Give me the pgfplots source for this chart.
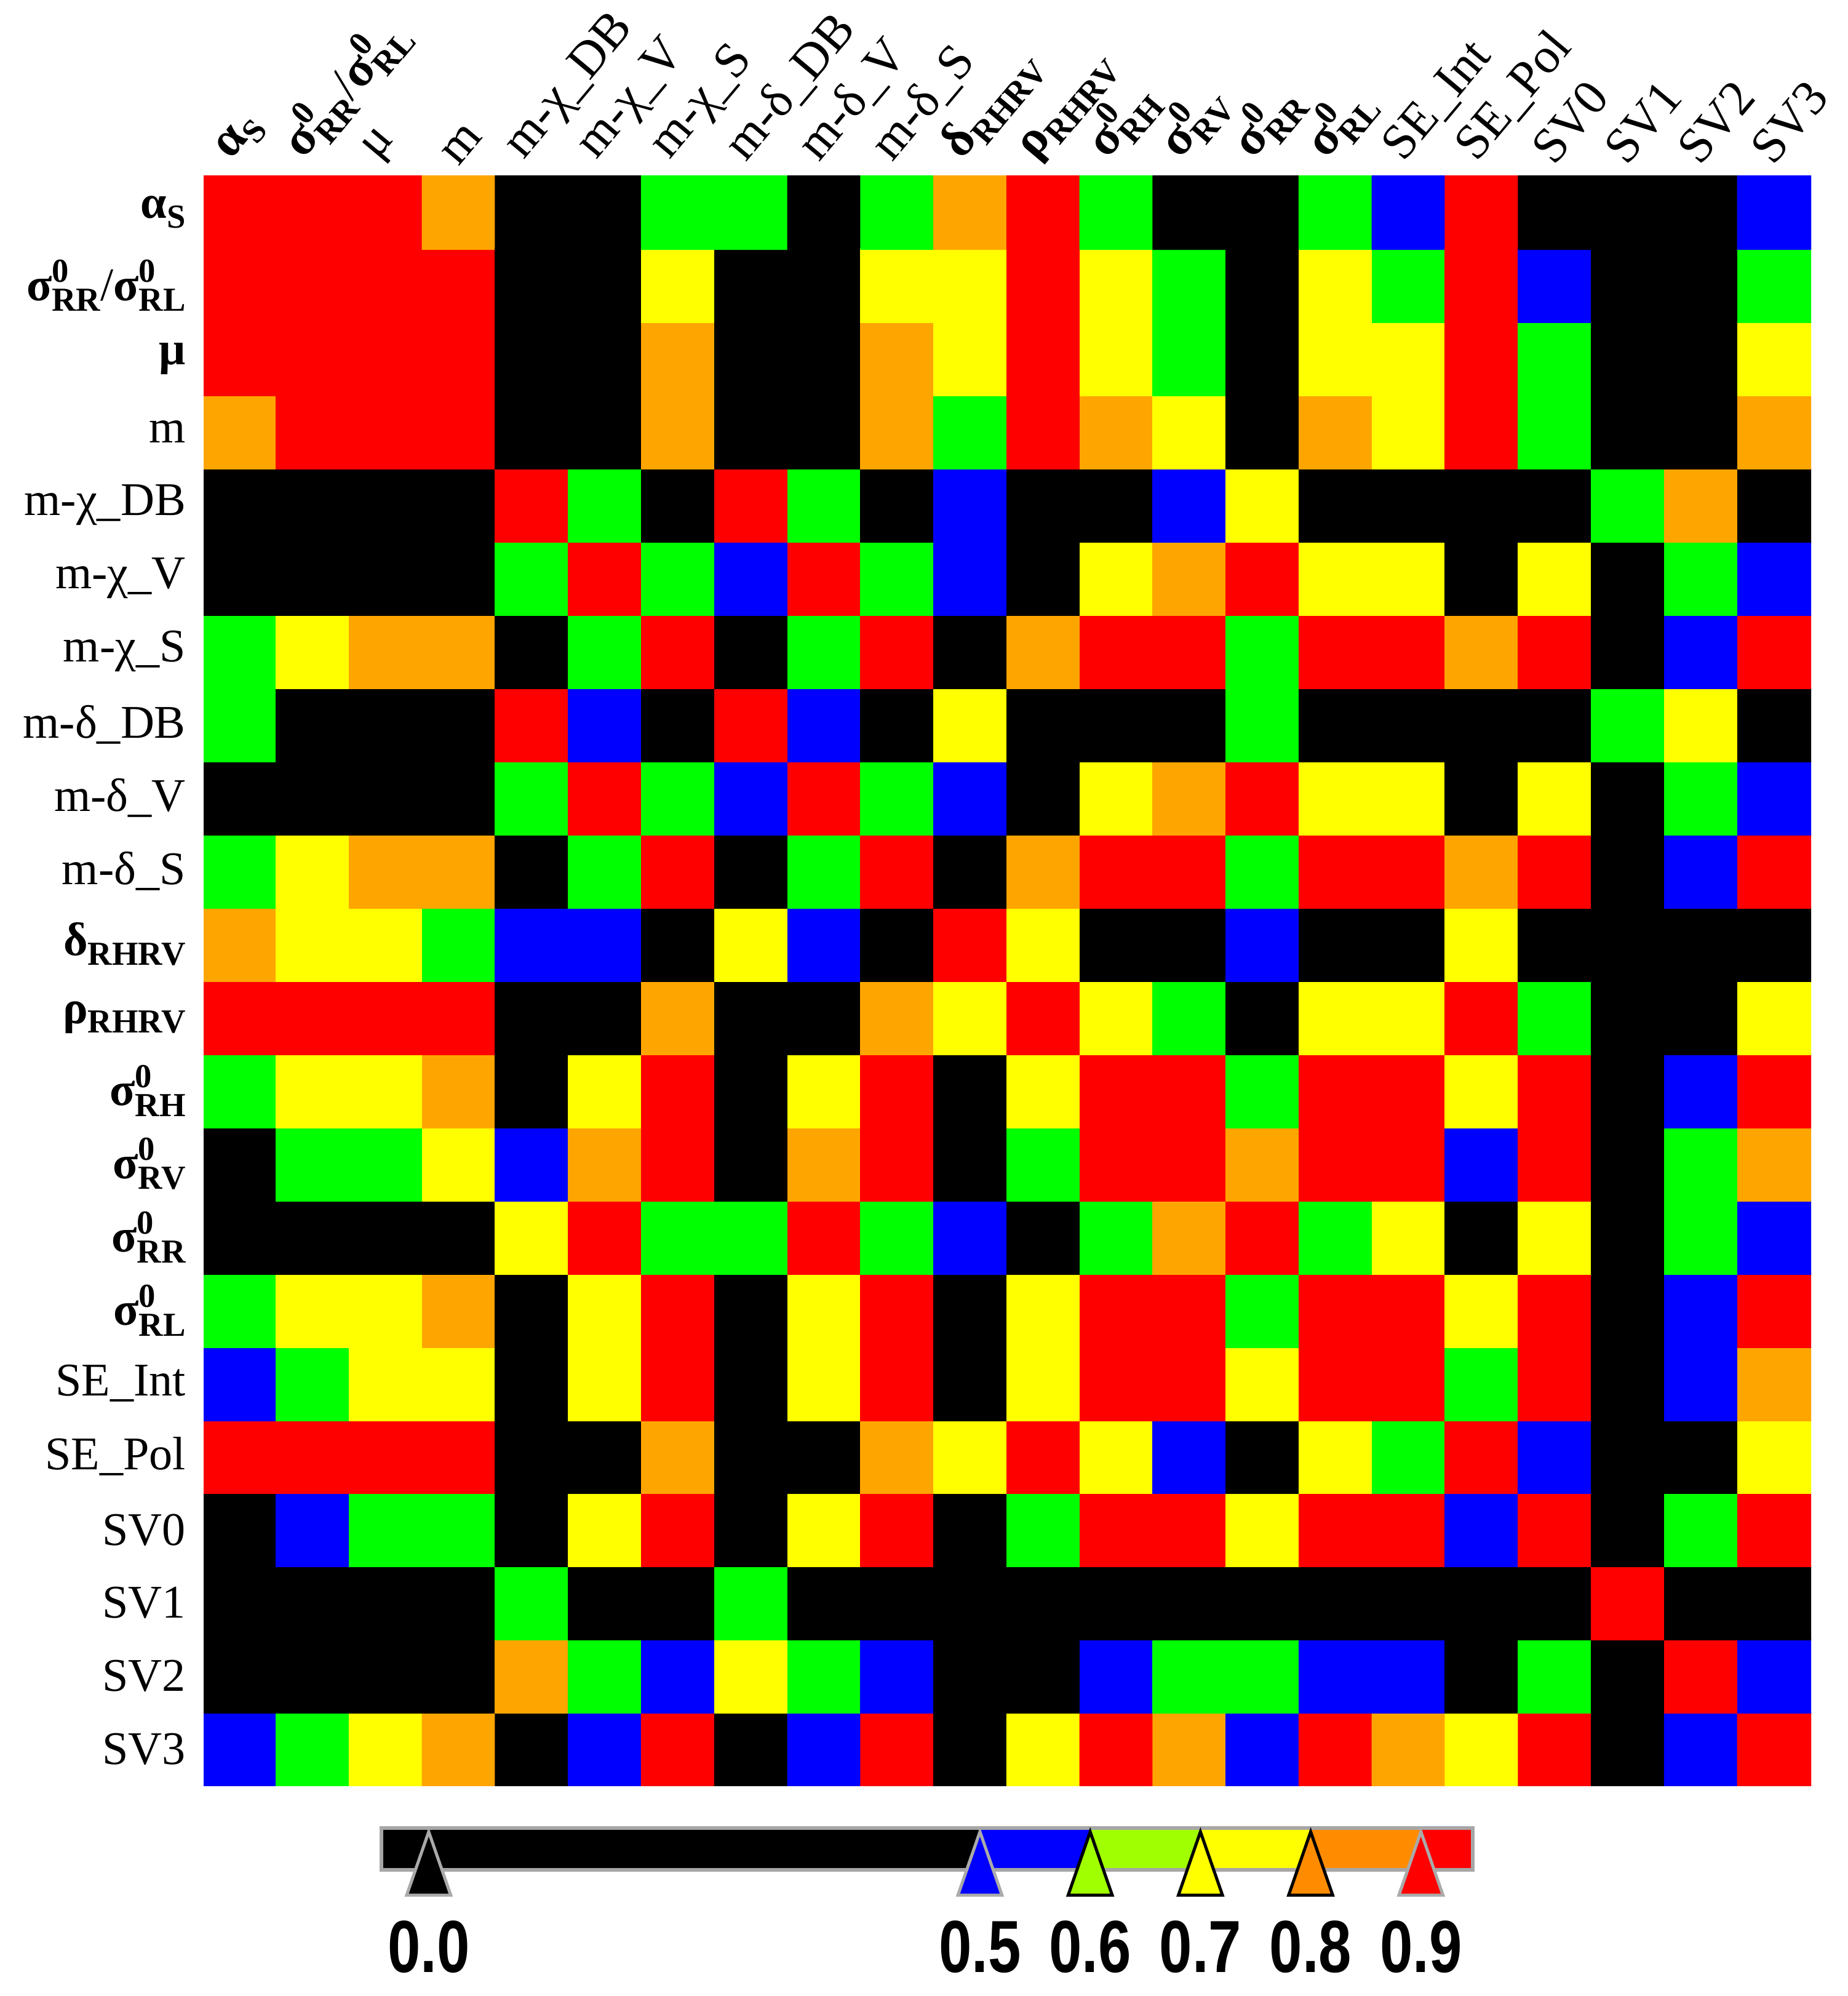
\documentclass[border=0pt]{standalone}
\usepackage{pgfplots}
\pgfplotsset{compat=1.18}
\usepackage{graphicx}
\usepackage{fontspec}
\setmainfont{Liberation Serif}
\newfontfamily\cbfont{Liberation Sans}
\newcommand{\lbl}{\fontsize{9.2}{10}\selectfont}
\newcommand{\clbl}{\fontsize{9.8}{10}\selectfont}
\newcommand{\sml}{\fontsize{6.6}{7}\selectfont}
\newcommand{\sig}[1]{\textbf{σ\makebox[0pt][l]{\raisebox{0.85ex}{\sml 0}}\raisebox{-0.5ex}{\sml #1}}}
\newcommand{\gsub}[2]{\textbf{#1\raisebox{-0.45ex}{\sml #2}}}
\newcommand{\cb}[1]{\scalebox{0.8}[1]{\cbfont\fontsize{14.5}{14.5}\selectfont\bfseries #1}}
\definecolor{cK}{RGB}{0,0,0}
\definecolor{cB}{RGB}{0,0,255}
\definecolor{cG}{RGB}{0,255,0}
\definecolor{cY}{RGB}{255,255,0}
\definecolor{cO}{RGB}{255,165,0}
\definecolor{cR}{RGB}{255,0,0}
\definecolor{bLime}{RGB}{160,255,0}
\definecolor{bOrange}{RGB}{255,140,0}
\definecolor{triGray}{RGB}{170,170,170}
\begin{document}
\begin{tikzpicture}
\useasboundingbox (-40pt,34.5pt) rectangle (323pt,-357.5pt);
\begin{axis}[
  at={(0pt,0pt)}, anchor=north west,
  scale only axis, width=315.75pt, height=316.25pt,
  xmin=-0.5, xmax=21.5, ymin=-0.5, ymax=21.5,
  enlargelimits=false,
  axis line style={draw=none}, tick style={draw=none},
  xtick={0,...,21}, ytick={0,...,21},
  xticklabel pos=upper,
  xticklabels={{\gsub{α}{S}},{\sig{RR}/\sig{RL}},{μ},{m},{m-χ\_DB},{m-χ\_V},{m-χ\_S},{m-δ\_DB},{m-δ\_V},{m-δ\_S},{\gsub{δ}{RHRV}},{\gsub{ρ}{RHRV}},{\sig{RH}},{\sig{RV}},{\sig{RR}},{\sig{RL}},{SE\_Int},{SE\_Pol},{SV0},{SV1},{SV2},{SV3}},
  yticklabels={{SV3},{SV2},{SV1},{SV0},{SE\_Pol},{SE\_Int},{\sig{RL}},{\sig{RR}},{\sig{RV}},{\sig{RH}},{\gsub{ρ}{RHRV}},{\gsub{δ}{RHRV}},{m-δ\_S},{m-δ\_V},{m-δ\_DB},{m-χ\_S},{m-χ\_V},{m-χ\_DB},{m},{\textbf{μ}},{\sig{RR}/\sig{RL}},{\gsub{α}{S}}},
  xticklabel style={rotate=50, anchor=south west, font=\clbl, inner sep=1pt},
  yticklabel style={anchor=east, font=\lbl},
  colormap={cat}{rgb255=(0,0,0) rgb255=(0,0,255) rgb255=(0,255,0) rgb255=(255,255,0) rgb255=(255,165,0) rgb255=(255,0,0)},
  colormap access=direct,
]
\addplot[matrix plot*, mesh/cols=22, point meta=explicit] coordinates {
(0,0)[1] (1,0)[2] (2,0)[3] (3,0)[4] (4,0)[0] (5,0)[1] (6,0)[5] (7,0)[0] (8,0)[1] (9,0)[5] (10,0)[0] (11,0)[3] (12,0)[5] (13,0)[4] (14,0)[1] (15,0)[5] (16,0)[4] (17,0)[3] (18,0)[5] (19,0)[0] (20,0)[1] (21,0)[5]

(0,1)[0] (1,1)[0] (2,1)[0] (3,1)[0] (4,1)[4] (5,1)[2] (6,1)[1] (7,1)[3] (8,1)[2] (9,1)[1] (10,1)[0] (11,1)[0] (12,1)[1] (13,1)[2] (14,1)[2] (15,1)[1] (16,1)[1] (17,1)[0] (18,1)[2] (19,1)[0] (20,1)[5] (21,1)[1]

(0,2)[0] (1,2)[0] (2,2)[0] (3,2)[0] (4,2)[2] (5,2)[0] (6,2)[0] (7,2)[2] (8,2)[0] (9,2)[0] (10,2)[0] (11,2)[0] (12,2)[0] (13,2)[0] (14,2)[0] (15,2)[0] (16,2)[0] (17,2)[0] (18,2)[0] (19,2)[5] (20,2)[0] (21,2)[0]

(0,3)[0] (1,3)[1] (2,3)[2] (3,3)[2] (4,3)[0] (5,3)[3] (6,3)[5] (7,3)[0] (8,3)[3] (9,3)[5] (10,3)[0] (11,3)[2] (12,3)[5] (13,3)[5] (14,3)[3] (15,3)[5] (16,3)[5] (17,3)[1] (18,3)[5] (19,3)[0] (20,3)[2] (21,3)[5]

(0,4)[5] (1,4)[5] (2,4)[5] (3,4)[5] (4,4)[0] (5,4)[0] (6,4)[4] (7,4)[0] (8,4)[0] (9,4)[4] (10,4)[3] (11,4)[5] (12,4)[3] (13,4)[1] (14,4)[0] (15,4)[3] (16,4)[2] (17,4)[5] (18,4)[1] (19,4)[0] (20,4)[0] (21,4)[3]

(0,5)[1] (1,5)[2] (2,5)[3] (3,5)[3] (4,5)[0] (5,5)[3] (6,5)[5] (7,5)[0] (8,5)[3] (9,5)[5] (10,5)[0] (11,5)[3] (12,5)[5] (13,5)[5] (14,5)[3] (15,5)[5] (16,5)[5] (17,5)[2] (18,5)[5] (19,5)[0] (20,5)[1] (21,5)[4]

(0,6)[2] (1,6)[3] (2,6)[3] (3,6)[4] (4,6)[0] (5,6)[3] (6,6)[5] (7,6)[0] (8,6)[3] (9,6)[5] (10,6)[0] (11,6)[3] (12,6)[5] (13,6)[5] (14,6)[2] (15,6)[5] (16,6)[5] (17,6)[3] (18,6)[5] (19,6)[0] (20,6)[1] (21,6)[5]

(0,7)[0] (1,7)[0] (2,7)[0] (3,7)[0] (4,7)[3] (5,7)[5] (6,7)[2] (7,7)[2] (8,7)[5] (9,7)[2] (10,7)[1] (11,7)[0] (12,7)[2] (13,7)[4] (14,7)[5] (15,7)[2] (16,7)[3] (17,7)[0] (18,7)[3] (19,7)[0] (20,7)[2] (21,7)[1]

(0,8)[0] (1,8)[2] (2,8)[2] (3,8)[3] (4,8)[1] (5,8)[4] (6,8)[5] (7,8)[0] (8,8)[4] (9,8)[5] (10,8)[0] (11,8)[2] (12,8)[5] (13,8)[5] (14,8)[4] (15,8)[5] (16,8)[5] (17,8)[1] (18,8)[5] (19,8)[0] (20,8)[2] (21,8)[4]

(0,9)[2] (1,9)[3] (2,9)[3] (3,9)[4] (4,9)[0] (5,9)[3] (6,9)[5] (7,9)[0] (8,9)[3] (9,9)[5] (10,9)[0] (11,9)[3] (12,9)[5] (13,9)[5] (14,9)[2] (15,9)[5] (16,9)[5] (17,9)[3] (18,9)[5] (19,9)[0] (20,9)[1] (21,9)[5]

(0,10)[5] (1,10)[5] (2,10)[5] (3,10)[5] (4,10)[0] (5,10)[0] (6,10)[4] (7,10)[0] (8,10)[0] (9,10)[4] (10,10)[3] (11,10)[5] (12,10)[3] (13,10)[2] (14,10)[0] (15,10)[3] (16,10)[3] (17,10)[5] (18,10)[2] (19,10)[0] (20,10)[0] (21,10)[3]

(0,11)[4] (1,11)[3] (2,11)[3] (3,11)[2] (4,11)[1] (5,11)[1] (6,11)[0] (7,11)[3] (8,11)[1] (9,11)[0] (10,11)[5] (11,11)[3] (12,11)[0] (13,11)[0] (14,11)[1] (15,11)[0] (16,11)[0] (17,11)[3] (18,11)[0] (19,11)[0] (20,11)[0] (21,11)[0]

(0,12)[2] (1,12)[3] (2,12)[4] (3,12)[4] (4,12)[0] (5,12)[2] (6,12)[5] (7,12)[0] (8,12)[2] (9,12)[5] (10,12)[0] (11,12)[4] (12,12)[5] (13,12)[5] (14,12)[2] (15,12)[5] (16,12)[5] (17,12)[4] (18,12)[5] (19,12)[0] (20,12)[1] (21,12)[5]

(0,13)[0] (1,13)[0] (2,13)[0] (3,13)[0] (4,13)[2] (5,13)[5] (6,13)[2] (7,13)[1] (8,13)[5] (9,13)[2] (10,13)[1] (11,13)[0] (12,13)[3] (13,13)[4] (14,13)[5] (15,13)[3] (16,13)[3] (17,13)[0] (18,13)[3] (19,13)[0] (20,13)[2] (21,13)[1]

(0,14)[2] (1,14)[0] (2,14)[0] (3,14)[0] (4,14)[5] (5,14)[1] (6,14)[0] (7,14)[5] (8,14)[1] (9,14)[0] (10,14)[3] (11,14)[0] (12,14)[0] (13,14)[0] (14,14)[2] (15,14)[0] (16,14)[0] (17,14)[0] (18,14)[0] (19,14)[2] (20,14)[3] (21,14)[0]

(0,15)[2] (1,15)[3] (2,15)[4] (3,15)[4] (4,15)[0] (5,15)[2] (6,15)[5] (7,15)[0] (8,15)[2] (9,15)[5] (10,15)[0] (11,15)[4] (12,15)[5] (13,15)[5] (14,15)[2] (15,15)[5] (16,15)[5] (17,15)[4] (18,15)[5] (19,15)[0] (20,15)[1] (21,15)[5]

(0,16)[0] (1,16)[0] (2,16)[0] (3,16)[0] (4,16)[2] (5,16)[5] (6,16)[2] (7,16)[1] (8,16)[5] (9,16)[2] (10,16)[1] (11,16)[0] (12,16)[3] (13,16)[4] (14,16)[5] (15,16)[3] (16,16)[3] (17,16)[0] (18,16)[3] (19,16)[0] (20,16)[2] (21,16)[1]

(0,17)[0] (1,17)[0] (2,17)[0] (3,17)[0] (4,17)[5] (5,17)[2] (6,17)[0] (7,17)[5] (8,17)[2] (9,17)[0] (10,17)[1] (11,17)[0] (12,17)[0] (13,17)[1] (14,17)[3] (15,17)[0] (16,17)[0] (17,17)[0] (18,17)[0] (19,17)[2] (20,17)[4] (21,17)[0]

(0,18)[4] (1,18)[5] (2,18)[5] (3,18)[5] (4,18)[0] (5,18)[0] (6,18)[4] (7,18)[0] (8,18)[0] (9,18)[4] (10,18)[2] (11,18)[5] (12,18)[4] (13,18)[3] (14,18)[0] (15,18)[4] (16,18)[3] (17,18)[5] (18,18)[2] (19,18)[0] (20,18)[0] (21,18)[4]

(0,19)[5] (1,19)[5] (2,19)[5] (3,19)[5] (4,19)[0] (5,19)[0] (6,19)[4] (7,19)[0] (8,19)[0] (9,19)[4] (10,19)[3] (11,19)[5] (12,19)[3] (13,19)[2] (14,19)[0] (15,19)[3] (16,19)[3] (17,19)[5] (18,19)[2] (19,19)[0] (20,19)[0] (21,19)[3]

(0,20)[5] (1,20)[5] (2,20)[5] (3,20)[5] (4,20)[0] (5,20)[0] (6,20)[3] (7,20)[0] (8,20)[0] (9,20)[3] (10,20)[3] (11,20)[5] (12,20)[3] (13,20)[2] (14,20)[0] (15,20)[3] (16,20)[2] (17,20)[5] (18,20)[1] (19,20)[0] (20,20)[0] (21,20)[2]

(0,21)[5] (1,21)[5] (2,21)[5] (3,21)[4] (4,21)[0] (5,21)[0] (6,21)[2] (7,21)[2] (8,21)[0] (9,21)[2] (10,21)[4] (11,21)[5] (12,21)[2] (13,21)[0] (14,21)[0] (15,21)[2] (16,21)[1] (17,21)[5] (18,21)[0] (19,21)[0] (20,21)[0] (21,21)[1]
};
\end{axis}
\begin{axis}[
  at={(34.9pt,-324.5pt)}, anchor=north west,
  scale only axis, width=214.4pt, height=8.25pt,
  xmin=-0.043, xmax=0.947, ymin=0, ymax=1,
  clip=false, axis line style={draw=none}, tick style={draw=none},
  ytick=\empty, xtick={0,0.5,0.6,0.7,0.8,0.9},
  xticklabels={\cb{0.0},\cb{0.5},\cb{0.6},\cb{0.7},\cb{0.8},\cb{0.9}},
  xticklabel style={anchor=north, yshift=-6.4pt},
]
\addplot[fill=black, draw=none] coordinates {(-0.043,0) (-0.043,1) (0.5,1) (0.5,0)};
\addplot[fill=cB, draw=none] coordinates {(0.5,0) (0.5,1) (0.6,1) (0.6,0)};
\addplot[fill=bLime, draw=none] coordinates {(0.6,0) (0.6,1) (0.7,1) (0.7,0)};
\addplot[fill=cY, draw=none] coordinates {(0.7,0) (0.7,1) (0.8,1) (0.8,0)};
\addplot[fill=bOrange, draw=none] coordinates {(0.8,0) (0.8,1) (0.9,1) (0.9,0)};
\addplot[fill=cR, draw=none] coordinates {(0.9,0) (0.9,1) (0.947,1) (0.947,0)};
\addplot[draw=gray!70, line width=0.7pt] coordinates {(-0.043,0) (-0.043,1) (0.947,1) (0.947,0) (-0.043,0)} -- cycle;
\addplot[fill=black, draw=triGray, line width=0.6pt] coordinates {(-0.02,-0.6) (0,0.91) (0.02,-0.6)} -- cycle;
\addplot[fill=cB, draw=triGray, line width=0.6pt] coordinates {(0.48,-0.6) (0.5,0.91) (0.52,-0.6)} -- cycle;
\addplot[fill=bLime, draw=black, line width=0.6pt] coordinates {(0.58,-0.6) (0.6,0.91) (0.62,-0.6)} -- cycle;
\addplot[fill=cY, draw=black, line width=0.6pt] coordinates {(0.68,-0.6) (0.7,0.91) (0.72,-0.6)} -- cycle;
\addplot[fill=bOrange, draw=black, line width=0.6pt] coordinates {(0.78,-0.6) (0.8,0.91) (0.82,-0.6)} -- cycle;
\addplot[fill=cR, draw=triGray, line width=0.6pt] coordinates {(0.88,-0.6) (0.9,0.91) (0.92,-0.6)} -- cycle;
\end{axis}
\end{tikzpicture}
\end{document}
